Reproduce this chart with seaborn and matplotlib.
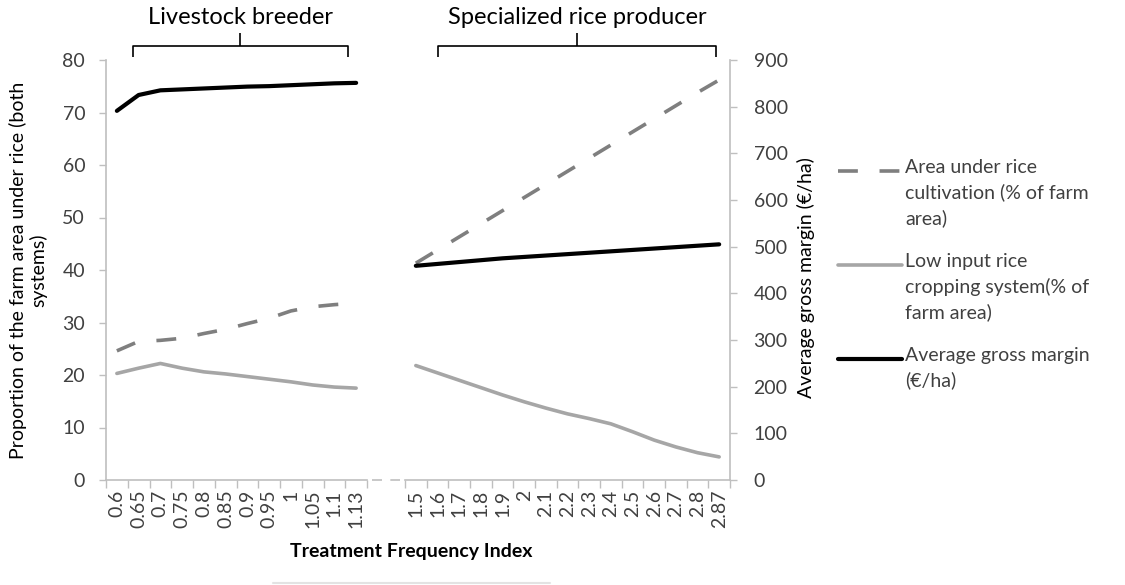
import pandas as pd
import seaborn as sns
import matplotlib.pyplot as plt
from matplotlib.lines import Line2D

# ─── Data ────────────────────────────────────────────────────────────────────
breeder_tfi = ["0.6", "0.65", "0.7", "0.75", "0.8", "0.85", "0.9", "0.95", "1", "1.05", "1.1", "1.13"]
breeder_area = [24.6, 26.4, 26.6, 27.0, 27.9, 28.7, 29.8, 30.8, 32.2, 33.0, 33.4, 33.7]
breeder_low = [20.3, 21.3, 22.2, 21.3, 20.6, 20.2, 19.7, 19.2, 18.7, 18.1, 17.7, 17.5]
breeder_margin = [791, 825, 835, 837, 839, 841, 843, 844, 846, 848, 850, 851]

rice_tfi = ["1.5", "1.6", "1.7", "1.8", "1.9", "2", "2.1", "2.2", "2.3", "2.4", "2.5", "2.6", "2.7", "2.8", "2.87"]
rice_area = [41.3, 43.8, 46.3, 48.8, 51.3, 53.8, 56.3, 58.8, 61.3, 63.8, 66.3, 68.8, 71.3, 73.8, 76.2]
rice_low = [21.8, 20.4, 19.0, 17.6, 16.2, 14.9, 13.7, 12.6, 11.7, 10.7, 9.2, 7.6, 6.3, 5.2, 4.4]
rice_margin = [459, 463, 467, 471, 475, 478, 481, 484, 487, 490, 493, 496, 499, 502, 505]

legend_labels = [
    "Area under rice\ncultivation (% of farm\narea)",
    "Low input rice\ncropping system(% of\nfarm area)",
    "Average gross margin\n(€/ha)",
]
group_names = ["Livestock breeder", "Specialized rice producer"]

# ─── Styling ──────────────────────────────────────────────────────────────────
sns.set_theme(style="white")
plt.rcParams["font.family"] = ["Lato", "DejaVu Sans"]

DASH_GRAY = "#7f7f7f"
LIGHT_GRAY = "#a6a6a6"
AXIS_GRAY = "#bfbfbf"
TEXT_GRAY = "#404040"
FS = 14
W, H = 1125, 585

fig = plt.figure(figsize=(W / 100, H / 100), dpi=100)


def px_box(x0, x1, y_top, y_bot):
    return [x0 / W, (H - y_bot) / H, (x1 - x0) / W, (y_bot - y_top) / H]


ax_l = fig.add_axes(px_box(106, 367, 60, 480))
ax_r = fig.add_axes(px_box(405, 730, 60, 480))
ax_l2 = ax_l.twinx()
ax_r2 = ax_r.twinx()


def draw_panel(ax, ax2, tfi, area, low, margin):
    df = pd.DataFrame({"tfi": tfi, "area": area, "low": low, "margin": margin})
    sns.lineplot(data=df, x="tfi", y="low", ax=ax, color=LIGHT_GRAY, lw=2.6, sort=False)
    sns.lineplot(data=df, x="tfi", y="area", ax=ax, color=DASH_GRAY, lw=2.6,
                 ls=(0, (5.5, 6)), sort=False)
    sns.lineplot(data=df, x="tfi", y="margin", ax=ax2, color="black", lw=3.0, sort=False)
    n = len(tfi)
    for a in (ax, ax2):
        a.set_xlim(-0.5, n - 0.5)
        a.set_xlabel("")
        a.set_ylabel("")
        a.grid(False)
        for s in a.spines.values():
            s.set_visible(False)
    ax.set_ylim(0, 80)
    ax2.set_ylim(0, 900)
    ax.set_xticks(range(n))
    ax.set_xticklabels(tfi, rotation=90, fontsize=FS, color=TEXT_GRAY)
    ax.set_xticks([i - 0.5 for i in range(n + 1)], minor=True)
    ax.tick_params(axis="x", which="major", length=0, pad=7)
    ax.tick_params(axis="x", which="minor", length=6, width=1, color=AXIS_GRAY, bottom=True)
    ax.spines["bottom"].set_visible(True)
    ax.spines["bottom"].set_color(AXIS_GRAY)
    ax.spines["bottom"].set_linewidth(1.2)


draw_panel(ax_l, ax_l2, breeder_tfi, breeder_area, breeder_low, breeder_margin)
draw_panel(ax_r, ax_r2, rice_tfi, rice_area, rice_low, rice_margin)

# left y axis
ax_l.spines["left"].set_visible(True)
ax_l.spines["left"].set_color(AXIS_GRAY)
ax_l.spines["left"].set_linewidth(1.2)
ax_l.set_yticks(range(0, 81, 10))
ax_l.tick_params(axis="y", left=True, length=5, width=1, color=AXIS_GRAY,
                 labelsize=FS, labelcolor=TEXT_GRAY, pad=10)
ax_l2.set_yticks([])
ax_l2.tick_params(axis="y", right=False, labelright=False)

# right y axis (gross margin)
ax_r.set_yticks([])
ax_r.tick_params(axis="y", left=False, labelleft=False)
ax_r2.spines["right"].set_visible(True)
ax_r2.spines["right"].set_color(AXIS_GRAY)
ax_r2.spines["right"].set_linewidth(1.2)
ax_r2.set_yticks(range(0, 901, 100))
ax_r2.tick_params(axis="y", right=True, length=5, width=1, color=AXIS_GRAY,
                  labelsize=FS, labelcolor=TEXT_GRAY, pad=12)

# ─── Axis titles ──────────────────────────────────────────────────────────────
fig.text(28 / W, 1 - 270 / H, "Proportion of the farm area under rice (both\nsystems)",
         rotation=90, ha="center", va="center", multialignment="center", fontsize=FS,
         color="black", linespacing=1.15)
fig.text(806 / W, 1 - 278 / H, "Average gross margin (€/ha)", rotation=90,
         ha="center", va="center", fontsize=FS, color="black")
fig.text(411 / W, 1 - 552 / H, "Treatment Frequency Index", ha="center", va="center",
         fontsize=FS, fontweight="bold", color="black")

# broken x-axis segment between panels and faint rule below
fig.add_artist(Line2D([372 / W, 400 / W], [1 - 480 / H] * 2, color=AXIS_GRAY, lw=1.2,
                      ls=(0, (6, 5))))
fig.add_artist(Line2D([273 / W, 550 / W], [1 - 583 / H] * 2, color="#e3e3e3", lw=1.5))


# ─── Group braces ─────────────────────────────────────────────────────────────
def brace(x0, x1, xm, label):
    y_tip, y_bar, y_peak = 1 - 57 / H, 1 - 46 / H, 1 - 33 / H
    kw = dict(color="black", lw=1.2, solid_capstyle="butt")
    fig.add_artist(Line2D([x0 / W, x0 / W, x1 / W, x1 / W], [y_tip, y_bar, y_bar, y_tip], **kw))
    fig.add_artist(Line2D([xm / W, xm / W], [y_bar, y_peak], **kw))
    fig.text(xm / W, 1 - 18 / H, label, ha="center", va="center", fontsize=17, color="black")


brace(133, 348, 240, group_names[0])
brace(438, 716, 577, group_names[1])

# ─── Legend (drawn by hand so handles align with first text line) ─────────────
styles = [
    dict(color=DASH_GRAY, lw=2.6, ls=(0, (5.5, 6))),
    dict(color=LIGHT_GRAY, lw=2.6, ls="-"),
    dict(color="black", lw=3.0, ls="-"),
]
first_line_y = [171, 265, 359]
for label, st, y in zip(legend_labels, styles, first_line_y):
    fig.add_artist(Line2D([838 / W, 902 / W], [1 - y / H] * 2, **st))
    fig.text(905 / W, 1 - (y - 12) / H, label, ha="left", va="top", fontsize=FS,
             color=TEXT_GRAY, linespacing=1.5)

fig.savefig("out.png", dpi=100)
